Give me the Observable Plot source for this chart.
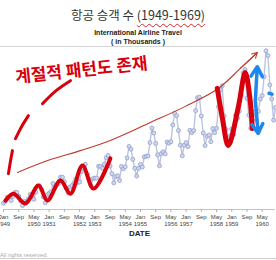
<!DOCTYPE html>
<html><head><meta charset="utf-8">
<script src="https://cdn.jsdelivr.net/npm/d3@7"></script>
<script src="https://cdn.jsdelivr.net/npm/@observablehq/plot@0.6"></script>
<style>
html,body{margin:0;padding:0;background:#fff;}
body{width:276px;height:260px;overflow:hidden;position:relative;font-family:"Liberation Sans",Arial,sans-serif;}
#head{position:absolute;left:0;top:0;width:276px;height:47px;border-bottom:1px solid #d4d4d4;box-sizing:border-box;}
#title{position:absolute;left:0;right:0;top:6px;text-align:center;font-family:"Noto Sans CJK KR",sans-serif;font-size:12.5px;line-height:17px;color:#333;white-space:nowrap;}
#title .yr{text-decoration:underline wavy #d8262b;text-decoration-thickness:1px;text-underline-offset:3px;}
#sub{position:absolute;left:0;right:0;top:29px;text-align:center;font-size:7px;font-weight:bold;line-height:8.5px;color:#222;}
#chart{position:absolute;left:0;top:47px;}
#chart svg{overflow:visible;}
#foot{position:absolute;left:0;top:252px;font-size:5.8px;color:#aaa;white-space:nowrap;}
#footline{position:absolute;left:0;right:0;top:258px;border-top:1px solid #d0d0d0;}
</style>
</head>
<body>
<div id="head">
  <div id="title">항공 승객 수 <span class="yr">(1949-1969)</span></div>
  <div id="sub">International Airline Travel<br>( in Thousands )</div>
</div>
<div id="chart"></div>
<div id="foot">All rights reserved.</div>
<div id="footline"></div>
<script>
// Monthly international airline passengers (thousands), Jan 1949 – Dec 1960
const y1949 = [112,118,132,129,121,135,148,148,136,119,104,118];
const y1950 = [115,126,141,135,125,149,170,170,158,133,114,140];
const y1951 = [145,150,178,163,172,178,199,199,184,162,146,166];
const y1952 = [171,180,193,181,183,218,230,242,209,191,172,194];
const y1953 = [196,196,236,235,229,243,264,272,237,211,180,201];
const y1954 = [204,188,235,227,234,264,302,293,259,229,203,229];
const y1955 = [242,233,267,269,270,315,364,347,312,274,237,278];
const y1956 = [284,277,317,313,318,374,413,405,355,306,271,306];
const y1957 = [315,301,356,348,355,422,465,467,404,347,305,336];
const y1958 = [340,318,362,348,363,435,491,505,404,359,310,337];
const y1959 = [360,342,406,396,420,472,548,559,463,407,362,405];
const y1960 = [417,391,419,461,472,535,622,606,508,461,390,432];
const passengers = [...y1949,...y1950,...y1951,...y1952,...y1953,...y1954,...y1955,...y1956,...y1957,...y1958,...y1959,...y1960];

// x ticks (month index from Jan 1949) and labels
const tickMonths = [0,8,16,24,32,40,48,56,64,72,80,88,96,104,112,120,128,136];
const tickLabels = ["Jan\n1949","Sep","May\n1950","Jan\n1951","Sep","May\n1952","Jan\n1953","Sep","May\n1954",
                    "Jan\n1955","Sep","May\n1956","Jan\n1957","Sep","May\n1958","Jan\n1959","Sep","May\n1960"];
const axisTitle = "DATE";

// hand-drawn annotations, in data units [month index, passengers]
const noteText = "계절적 패턴도 존재";
const notePos = [41, 556];
const trendCurve = [[7.35,215],[24.7,258],[40.4,288],[56.2,322],[77.2,382],[95.6,436],[112.9,496],[124.5,563],[133.4,616]];
const waveEarly = [[1.05,121],[5.25,144],[11.55,111],[18.4,171],[23.1,121],[29.9,188],[35.2,144],[41.5,238],[47.3,161],[56.2,262]];
const waveLate = [[112.4,496],[115,399],[118.2,305],[123.4,432],[127.1,549],[129.7,455],[130.8,362]];
const dashes = [
  [[2.6,211],[3.6,250],[4.7,288]],
  [[6.3,328],[9.5,368],[13.1,405]],
  [[20.5,445],[27.5,488],[35.2,522]]
];
const blueMid = [132.4,455], blueTop = [133.4,569], blueBottom = [133.9,345];
const blueDash = [[139.6,480],[141.2,477]];

const series = passengers.map((v,i)=>({m:i, v}));
const pts = a => a.map(([m,v])=>({m,v}));
const dashRows = dashes.flatMap((d,g)=>d.map(([m,v])=>({m,v,g})));
const labelFor = new Map(tickMonths.map((t,i)=>[t,tickLabels[i]]));
const n = trendCurve.length;

const chart = Plot.plot({
  width: 276, height: 213,
  marginLeft: 3, marginRight: 1, marginTop: 0, marginBottom: 51,
  x: {domain: [0, 143], axis: null},
  y: {domain: [91, 633], axis: null},
  style: {background: "transparent", fontFamily: "Liberation Sans, Arial, sans-serif", overflow: "visible"},
  marks: [
    Plot.ruleY([91], {stroke: "#c4c4c4"}),
    Plot.axisX({ticks: tickMonths, tickFormat: d => labelFor.get(d), tickSize: 3, tickPadding: 1.5,
                fontSize: 6, lineHeight: 1.2, stroke: "#b0b0b0", fill: "#444", label: null}),
    Plot.text([axisTitle], {text: d => d, frameAnchor: "bottom", dy: 26, fontSize: 8, fill: "#222", fontWeight: "bold"}),
    Plot.line(series, {x: "m", y: "v", stroke: "#bcc5df", strokeWidth: 1.4}),
    Plot.dot(series, {x: "m", y: "v", r: 2, fill: "#cfd6ee", stroke: "#93a0cb", strokeWidth: 0.8}),
    // annotations
    Plot.line(pts(trendCurve), {x: "m", y: "v", stroke: "#c0392b", strokeWidth: 1.1, curve: "catmull-rom"}),
    Plot.arrow([{x1: trendCurve[n-2][0], y1: trendCurve[n-2][1], x2: trendCurve[n-1][0], y2: trendCurve[n-1][1]}],
               {x1: "x1", y1: "y1", x2: "x2", y2: "y2", stroke: "#c0392b", strokeWidth: 1.1, headLength: 8}),
    Plot.line(dashRows, {x: "m", y: "v", z: "g", stroke: "#d8000c", strokeWidth: 3, curve: "catmull-rom", strokeLinecap: "round"}),
    Plot.line(pts(waveEarly), {x: "m", y: "v", stroke: "#d8000c", strokeWidth: 4, curve: "catmull-rom", strokeLinecap: "round"}),
    Plot.line(pts(waveLate), {x: "m", y: "v", stroke: "#d8000c", strokeWidth: 5, curve: "catmull-rom", strokeLinecap: "round"}),
    Plot.arrow([
      {x1: blueMid[0], y1: blueMid[1], x2: blueTop[0], y2: blueTop[1]},
      {x1: blueMid[0], y1: blueMid[1], x2: blueBottom[0], y2: blueBottom[1]}
    ], {x1: "x1", y1: "y1", x2: "x2", y2: "y2", stroke: "#1e88f0", strokeWidth: 3.5, headLength: 6}),
    Plot.line(pts(blueDash), {x: "m", y: "v", stroke: "#1e88f0", strokeWidth: 3.5}),
    Plot.text([noteText], {x: notePos[0], y: notePos[1], text: d => d, rotate: -6, fontSize: 17, fontWeight: "bold",
               fill: "#d8000c", fontFamily: "Noto Sans CJK KR"})
  ]
});
document.getElementById("chart").appendChild(chart);
</script>
</body></html>
